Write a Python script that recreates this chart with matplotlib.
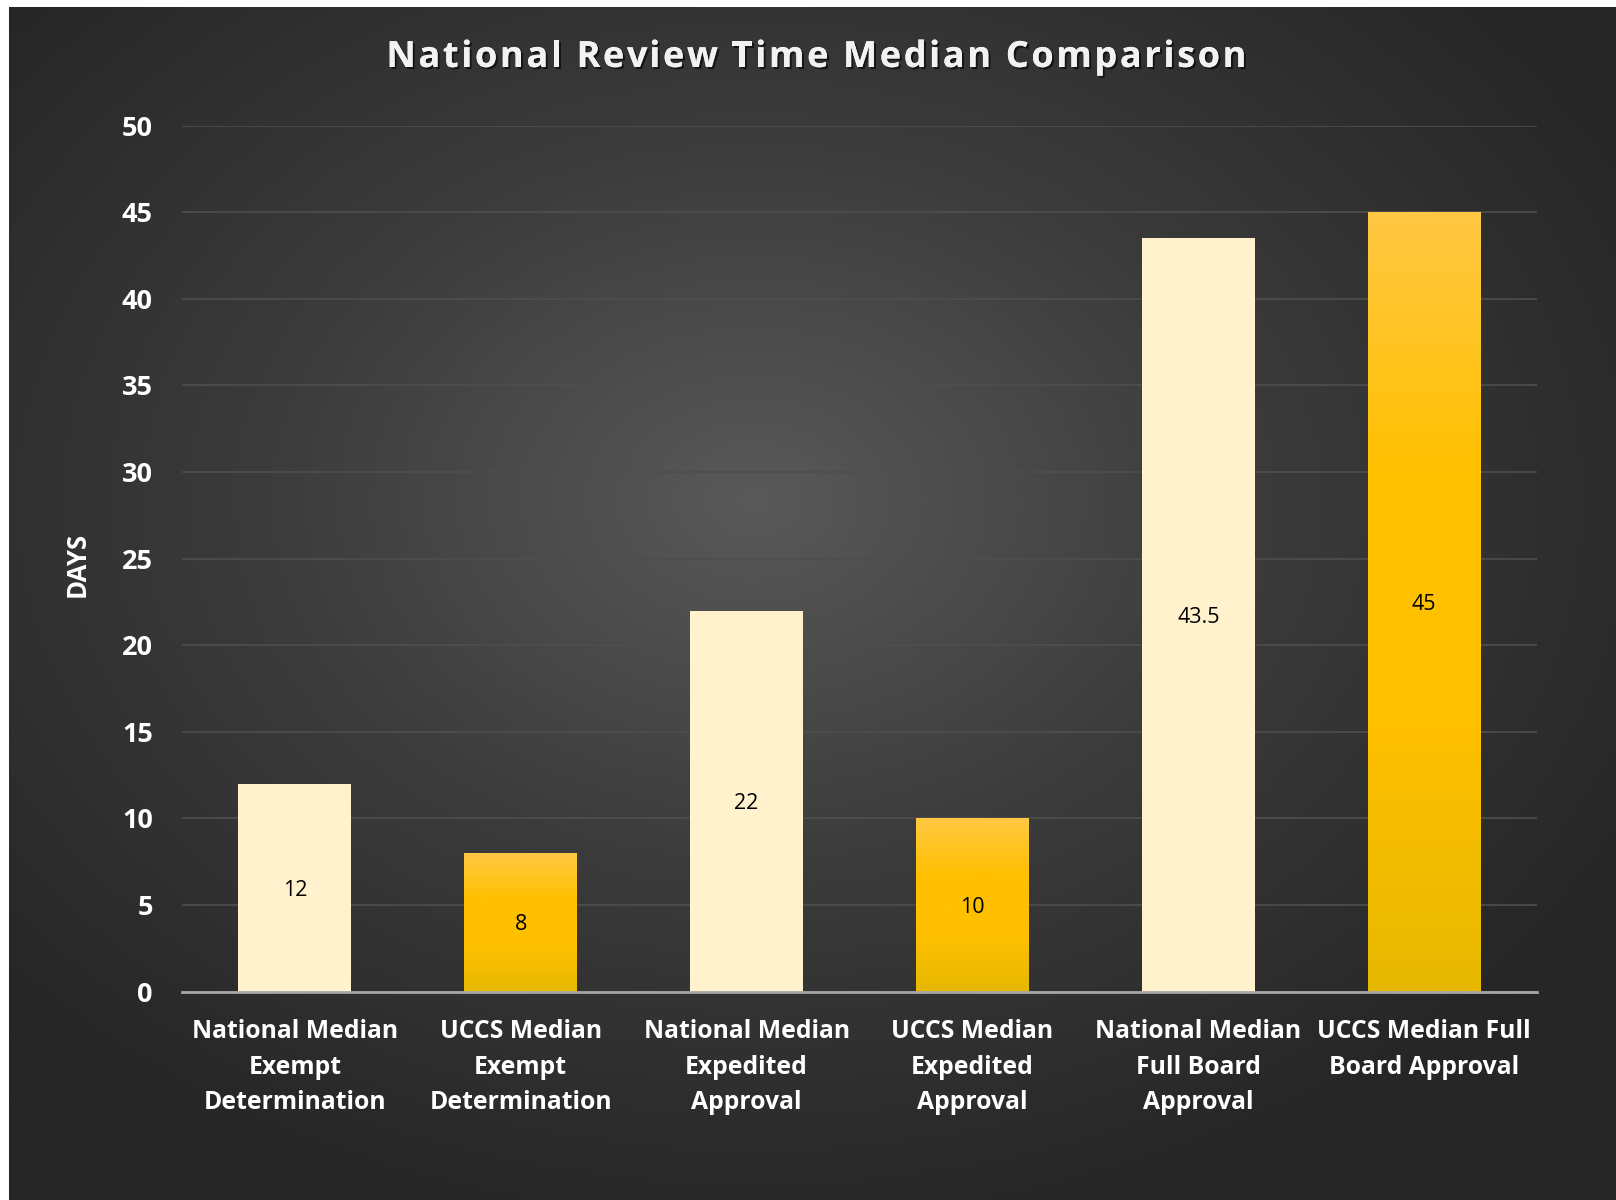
import numpy as np
import matplotlib.pyplot as plt
from matplotlib.colors import LinearSegmentedColormap
import matplotlib.patheffects as pe

categories = ['National Median\nExempt\nDetermination', 'UCCS Median\nExempt\nDetermination',
              'National Median\nExpedited\nApproval', 'UCCS Median\nExpedited\nApproval',
              'National Median\nFull Board\nApproval', 'UCCS Median Full\nBoard Approval']
values = [12, 8, 22, 10, 43.5, 45]
is_uccs = [False, True, False, True, False, True]
value_labels = ['12', '8', '22', '10', '43.5', '45']
title = 'National Review Time Median Comparison'

plt.rcParams['font.family'] = ['Open Sans', 'DejaVu Sans']

fig = plt.figure(figsize=(16.16, 12), dpi=100)
fig.patch.set_facecolor('white')

# dark radial gradient background
bg = fig.add_axes([9 / 1616, 0, 1 - 9 / 1616, 1 - 7 / 1200])
bg.set_axis_off()
yy, xx = np.mgrid[0:400, 0:540]
cx, cy = 250, 165
r = np.sqrt(((xx - cx) / 540) ** 2 + ((yy - cy) / 400) ** 2)
r = np.clip(r / 0.62, 0, 1)
bg_cmap = LinearSegmentedColormap.from_list('bg', ['#595959', '#3b3b3b', '#262626'])
bg.imshow(r, cmap=bg_cmap, aspect='auto', extent=[0, 1, 0, 1], origin='upper')
bg.set_xlim(0, 1)
bg.set_ylim(0, 1)

ax = fig.add_axes([182 / 1616, 1 - 991.5 / 1200, (1537 - 182) / 1616, (991.5 - 125.7) / 1200])
ax.patch.set_alpha(0)
x = np.arange(len(values))
bars = ax.bar(x, values, width=0.5, color='#FFF2CC', zorder=3)

gold = LinearSegmentedColormap.from_list('gold', ['#E6B800', '#FFC000', '#FFC000', '#FFC843'])
grad = np.linspace(0, 1, 256).reshape(-1, 1)
for b, u in zip(bars, is_uccs):
    if u:
        b.set_facecolor('none')
        x0, y0 = b.get_x(), b.get_y()
        w, h = b.get_width(), b.get_height()
        im = ax.imshow(grad, cmap=gold, aspect='auto', origin='lower',
                       extent=[x0, x0 + w, y0, y0 + h], zorder=3)
        im.set_clip_path(b)

for xi, v, lab in zip(x, values, value_labels):
    ax.text(xi, v / 2, lab, ha='center', va='center_baseline', fontsize=15.5, color='black', zorder=5)

ax.set_xlim(-0.5, len(values) - 0.5)
ax.set_ylim(0, 50)
ax.set_yticks(np.arange(0, 51, 5))
ax.grid(axis='y', color='#4e4e4e', linewidth=1.2, zorder=0)
ax.set_axisbelow(True)
for s in ['top', 'right', 'left']:
    ax.spines[s].set_visible(False)
ax.spines['bottom'].set_color('#a6a6a6')
ax.spines['bottom'].set_linewidth(2)
ax.spines['bottom'].set_zorder(4)
ax.tick_params(length=0)
ax.set_xticks(x)
ax.set_xticklabels(categories, fontsize=17.8, fontweight='bold', color='white', linespacing=1.55)
ax.tick_params(axis='x', pad=20)
ax.tick_params(axis='y', pad=21, labelsize=19.5, labelcolor='white')
for t in ax.get_yticklabels():
    t.set_fontweight('bold')

fig.text(77 / 1616, 1 - 564 / 1200, 'DAYS', rotation=90, ha='center', va='center',
         fontsize=18.5, fontweight='bold', color='white')

# title with wide letter spacing, placed char by char
fig.canvas.draw()
renderer = fig.canvas.get_renderer()
tkw = dict(fontsize=26, fontweight='bold', color='#f2f2f2')
spacing = 2.6
widths = []
for i in range(len(title) + 1):
    t = fig.text(0, 0, title[:i] if i else '', **tkw)
    widths.append(t.get_window_extent(renderer).width if i else 0)
    t.remove()
total = widths[-1] + spacing * (len(title) - 1)
start = (9 + 1607 / 2) - total / 2 + 4
ty = 1 - 58 / 1200
for i, ch in enumerate(title):
    if ch == ' ':
        continue
    px = start + widths[i] + spacing * i
    fig.text(px / 1616, ty, ch, ha='left', va='center', **tkw,
             path_effects=[pe.withSimplePatchShadow(offset=(1.5, -1.5), shadow_rgbFace='black', alpha=0.6),
                           pe.Normal()])

fig.savefig('out.png', dpi=100, facecolor=fig.get_facecolor())
